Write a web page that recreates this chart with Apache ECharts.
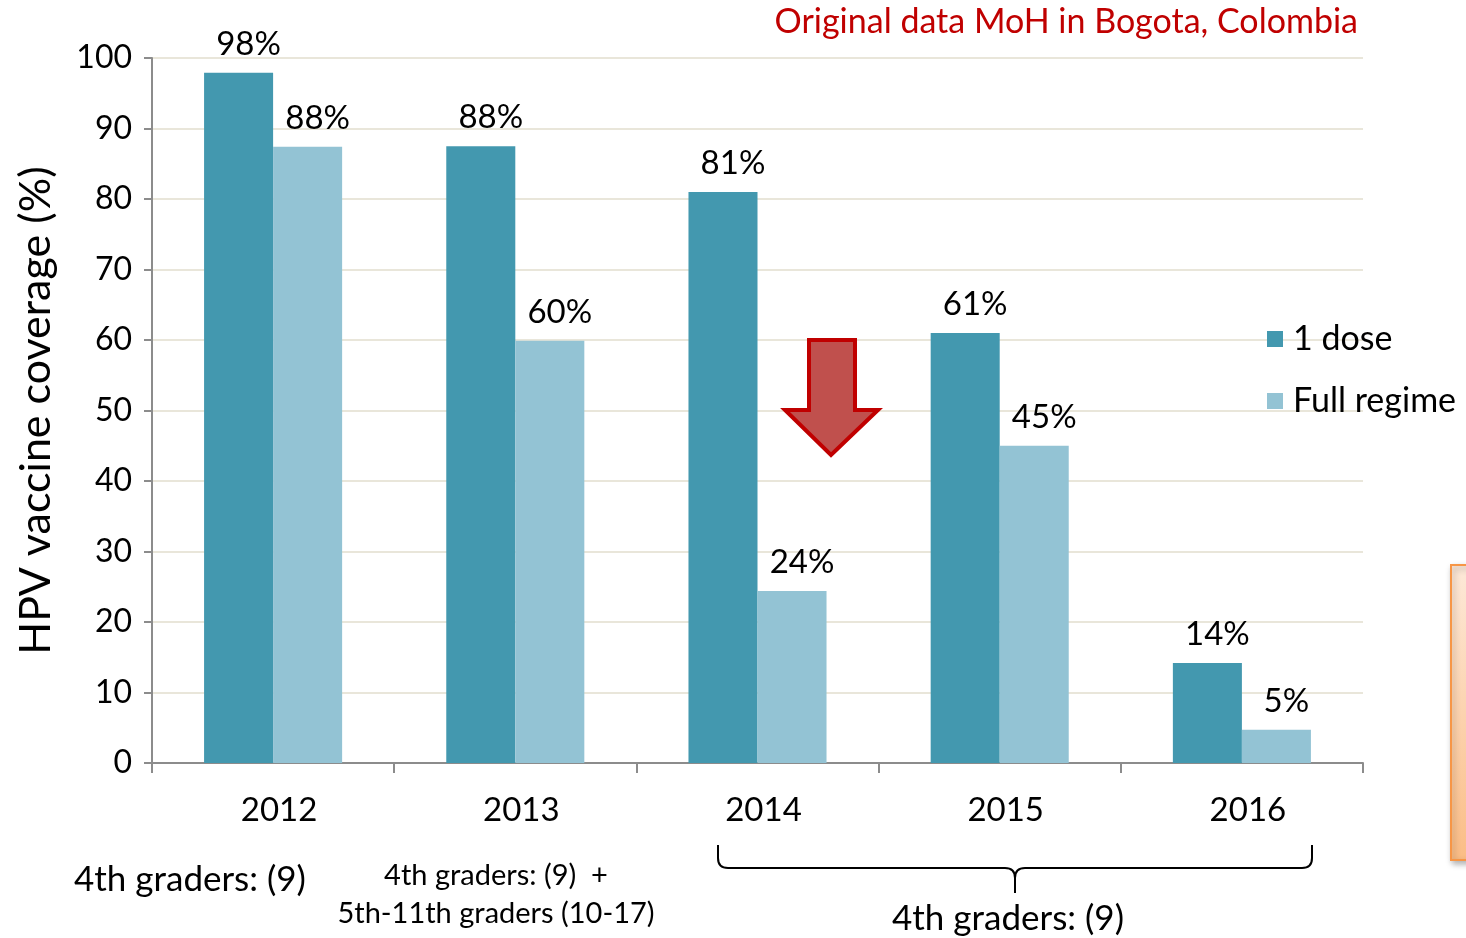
<!DOCTYPE html>
<html>
<head>
<meta charset="utf-8">
<script src="https://cdn.jsdelivr.net/npm/echarts@6/dist/echarts.min.js"></script>
<style>
  html, body { margin: 0; padding: 0; background: #fff; }
  #chart { width: 1466px; height: 938px; }
</style>
</head>
<body>
<div id="chart"></div>
<script>
const years = ['2012', '2013', '2014', '2015', '2016']
const oneDose = [97.9, 87.5, 81.0, 61.0, 14.2]
const fullRegime = [87.4, 59.9, 24.4, 45.0, 4.7]
const oneDoseLabels = ['98%', '88%', '81%', '61%', '14%']
const fullRegimeLabels = ['88%', '60%', '24%', '45%', '5%']
const yTicks = { min: 0, max: 100, interval: 10 }

const font = 'Lato, "Open Sans", sans-serif'
const darkTeal = '#4398af'
const lightTeal = '#93c3d4'

const chart = echarts.init(document.getElementById('chart'))

const barLabel = texts => ({
  show: true,
  position: 'top',
  distance: 12,
  offset: [10, 0],
  fontFamily: font,
  fontSize: 33,
  color: '#000',
  formatter: p => texts[p.dataIndex],
})

const braceStyle = { stroke: '#000', lineWidth: 2, fill: null }
const curve = (x1, y1, cx, cy, x2, y2) => ({
  type: 'bezierCurve',
  shape: { x1, y1, cpx1: cx, cpy1: cy, x2, y2 },
  style: braceStyle,
})
const seg = (x1, y1, x2, y2) => ({
  type: 'line',
  shape: { x1, y1, x2, y2 },
  style: braceStyle,
})

const option = {
  animation: false,
  title: {
    text: 'Original data MoH in Bogota, Colombia',
    right: 103,
    top: 0,
    textStyle: { color: '#c00000', fontFamily: font, fontSize: 34, fontWeight: 'normal' },
  },
  legend: {
    orient: 'vertical',
    left: 1262,
    top: 317,
    itemWidth: 16,
    itemHeight: 16,
    itemGap: 28,
    icon: 'rect',
    textStyle: { fontFamily: font, fontSize: 34, color: '#000', padding: [0, 0, 0, 5] },
  },
  grid: { left: 152, right: 103, top: 58, bottom: 175 },
  xAxis: {
    type: 'category',
    data: years,
    axisLine: { lineStyle: { color: '#8c8c8c', width: 2 } },
    axisTick: { show: true, length: 10, lineStyle: { color: '#8c8c8c', width: 2 } },
    axisLabel: { margin: 31, fontFamily: font, fontSize: 33, color: '#000', padding: [0, 0, 0, 12] },
  },
  yAxis: {
    type: 'value',
    min: yTicks.min,
    max: yTicks.max,
    interval: yTicks.interval,
    name: 'HPV vaccine coverage (%)',
    nameLocation: 'middle',
    nameRotate: 90,
    nameGap: 94,
    nameTextStyle: { fontFamily: font, fontSize: 43, color: '#000' },
    axisLine: { show: true, lineStyle: { color: '#8c8c8c', width: 2 } },
    axisTick: { show: true, length: 8, lineStyle: { color: '#8c8c8c', width: 2 } },
    axisLabel: { margin: 20, fontFamily: font, fontSize: 32, color: '#000' },
    splitLine: { lineStyle: { color: '#e9e6da', width: 2 } },
  },
  series: [
    {
      name: '1 dose',
      type: 'bar',
      data: oneDose,
      barGap: '0%',
      barCategoryGap: '43%',
      itemStyle: { color: darkTeal },
      label: barLabel(oneDoseLabels),
    },
    {
      name: 'Full regime',
      type: 'bar',
      data: fullRegime,
      itemStyle: { color: lightTeal },
      label: barLabel(fullRegimeLabels),
    },
  ],
  graphic: [
    // red down arrow
    {
      type: 'polygon',
      z: 100,
      shape: { points: [[809, 340], [855, 340], [855, 410], [878, 410], [831, 455], [785, 410], [809, 410]] },
      style: { fill: '#c0504d', stroke: '#c00000', lineWidth: 4, lineJoin: 'miter' },
    },
    // orange box at right edge
    {
      type: 'rect',
      shape: { x: 1451, y: 565, width: 40, height: 295 },
      style: {
        fill: new echarts.graphic.LinearGradient(0, 0, 0, 1, [
          { offset: 0, color: '#fde9d9' },
          { offset: 1, color: '#fbbd85' },
        ]),
        stroke: '#f79646',
        lineWidth: 2,
        shadowBlur: 6,
        shadowOffsetX: 2,
        shadowOffsetY: 3,
        shadowColor: 'rgba(0,0,0,0.3)',
      },
    },
    // brace under 2014-2016
    seg(718, 845, 718, 858),
    curve(718, 858, 718, 868, 728, 868),
    seg(728, 868, 1005, 868),
    curve(1005, 868, 1015, 868, 1015, 878),
    curve(1015, 878, 1015, 868, 1025, 868),
    seg(1015, 878, 1015, 893),
    seg(1025, 868, 1302, 868),
    curve(1302, 868, 1312, 868, 1312, 858),
    seg(1312, 858, 1312, 845),
    {
      type: 'text',
      x: 74,
      y: 880,
      style: { text: '4th graders: (9)', fontFamily: font, fontSize: 35, fill: '#000', verticalAlign: 'middle' },
    },
    {
      type: 'text',
      x: 496,
      y: 895,
      style: {
        text: '4th graders: (9)  +\n5th-11th graders (10-17)',
        fontFamily: font,
        fontSize: 29,
        lineHeight: 38,
        fill: '#000',
        align: 'center',
        verticalAlign: 'middle',
      },
    },
    {
      type: 'text',
      x: 1008,
      y: 919,
      style: { text: '4th graders: (9)', fontFamily: font, fontSize: 35, fill: '#000', align: 'center', verticalAlign: 'middle' },
    },
  ],
}

chart.setOption(option)
</script>
</body>
</html>
